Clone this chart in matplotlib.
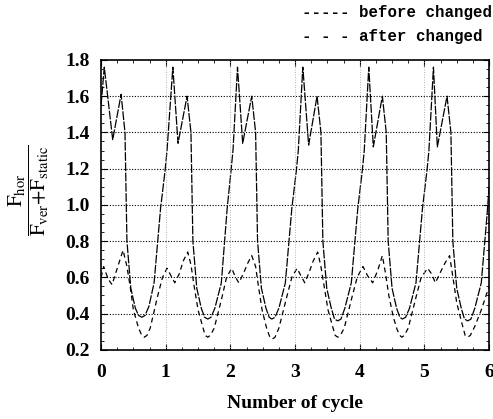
import numpy as np
import matplotlib
matplotlib.use("Agg")
import matplotlib.pyplot as plt
from matplotlib.ticker import MultipleLocator

# before changed (x = number of cycle, y = Fhor/(Fver+Fstatic))
x_before = [0.00, 0.05, 0.18, 0.31, 0.37, 0.40, 0.46, 0.53, 0.58, 0.63, 0.68, 0.74, 0.82, 0.92, 0.99, 1.02,
            1.11, 1.19, 1.33, 1.39, 1.42, 1.48, 1.55, 1.60, 1.65, 1.70, 1.76, 1.86, 1.95, 2.01, 2.04,
            2.11, 2.19, 2.33, 2.39, 2.42, 2.48, 2.55, 2.60, 2.64, 2.69, 2.75, 2.85, 2.95, 3.02, 3.05,
            3.12, 3.21, 3.34, 3.40, 3.43, 3.49, 3.56, 3.61, 3.66, 3.71, 3.77, 3.87, 3.97, 4.04, 4.07,
            4.14, 4.21, 4.35, 4.41, 4.44, 4.50, 4.57, 4.62, 4.66, 4.71, 4.77, 4.87, 4.97, 5.04, 5.07,
            5.14, 5.20, 5.35, 5.41, 5.44, 5.50, 5.57, 5.62, 5.67, 5.72, 5.78, 5.88, 5.97, 6.00]
y_before = [1.55, 1.76, 1.36, 1.61, 1.40, 0.80, 0.54, 0.43, 0.39, 0.38, 0.39, 0.44, 0.57, 0.98, 1.19, 1.30,
            1.76, 1.34, 1.60, 1.40, 0.80, 0.54, 0.43, 0.38, 0.37, 0.38, 0.43, 0.57, 0.98, 1.19, 1.30,
            1.76, 1.34, 1.60, 1.40, 0.80, 0.54, 0.43, 0.38, 0.37, 0.38, 0.43, 0.57, 0.98, 1.19, 1.30,
            1.76, 1.33, 1.60, 1.40, 0.80, 0.54, 0.43, 0.37, 0.36, 0.37, 0.43, 0.57, 0.98, 1.19, 1.30,
            1.76, 1.32, 1.60, 1.40, 0.80, 0.54, 0.43, 0.38, 0.37, 0.38, 0.43, 0.57, 0.98, 1.19, 1.30,
            1.76, 1.32, 1.60, 1.40, 0.80, 0.54, 0.43, 0.37, 0.36, 0.37, 0.43, 0.57, 0.95, 1.10]

# after changed
x_after = [0.00, 0.04, 0.11, 0.17, 0.25, 0.34, 0.40, 0.45, 0.50, 0.58, 0.63, 0.67, 0.71, 0.76, 0.87, 0.95,
           1.02, 1.08, 1.14, 1.21, 1.27, 1.34, 1.39, 1.44, 1.50, 1.57, 1.61, 1.65, 1.69, 1.75, 1.87, 1.94,
           2.02, 2.08, 2.13, 2.20, 2.27, 2.33, 2.39, 2.43, 2.49, 2.56, 2.61, 2.65, 2.69, 2.75, 2.87, 2.95,
           3.03, 3.09, 3.15, 3.22, 3.28, 3.35, 3.40, 3.45, 3.51, 3.58, 3.62, 3.66, 3.70, 3.76, 3.88, 3.96,
           4.05, 4.12, 4.20, 4.28, 4.35, 4.40, 4.45, 4.52, 4.58, 4.62, 4.65, 4.69, 4.75, 4.87, 4.95,
           5.05, 5.11, 5.17, 5.25, 5.32, 5.39, 5.45, 5.50, 5.57, 5.63, 5.67, 5.71, 5.78, 5.88, 6.00]
y_after = [0.60, 0.66, 0.59, 0.56, 0.65, 0.75, 0.66, 0.55, 0.42, 0.32, 0.28, 0.27, 0.28, 0.32, 0.49, 0.60,
           0.65, 0.61, 0.57, 0.62, 0.69, 0.74, 0.67, 0.55, 0.42, 0.33, 0.28, 0.27, 0.28, 0.32, 0.49, 0.60,
           0.65, 0.60, 0.57, 0.62, 0.68, 0.72, 0.66, 0.56, 0.42, 0.32, 0.27, 0.26, 0.27, 0.32, 0.49, 0.60,
           0.65, 0.61, 0.57, 0.63, 0.69, 0.74, 0.66, 0.55, 0.42, 0.33, 0.28, 0.27, 0.28, 0.32, 0.49, 0.60,
           0.66, 0.61, 0.57, 0.64, 0.72, 0.62, 0.50, 0.38, 0.31, 0.28, 0.27, 0.28, 0.32, 0.49, 0.60,
           0.65, 0.62, 0.57, 0.63, 0.68, 0.72, 0.58, 0.46, 0.36, 0.28, 0.27, 0.28, 0.33, 0.42, 0.55]

x_ticks = [0, 1, 2, 3, 4, 5, 6]
y_ticks = [0.2, 0.4, 0.6, 0.8, 1.0, 1.2, 1.4, 1.6, 1.8]

plt.rcParams['font.family'] = 'Liberation Serif'
plt.rcParams['mathtext.fontset'] = 'stix'

fig = plt.figure(figsize=(4.93, 4.19), dpi=100)
ax = fig.add_axes([0.205, 0.165, 0.787, 0.692])

ax.plot(x_before, y_before, color='black', lw=0.9, ls=(0, (7, 1.2)))
ax.plot(x_after, y_after, color='black', lw=0.9, ls=(0, (4, 3)))

ax.set_xlim(0, 6)
ax.set_ylim(0.2, 1.8)
ax.set_xticks(x_ticks)
ax.set_yticks(y_ticks)
ax.set_yticklabels(['%.1f' % v for v in y_ticks])
ax.xaxis.set_minor_locator(MultipleLocator(0.25))
ax.yaxis.set_minor_locator(MultipleLocator(0.05))
ax.tick_params(which='both', direction='in', top=True, right=True)
ax.tick_params(which='major', length=4)
ax.tick_params(which='minor', length=2.5)
ax.tick_params(axis='x', pad=10, labelsize=14)
ax.tick_params(axis='y', pad=8, labelsize=14)
for lab in ax.get_xticklabels() + ax.get_yticklabels():
    lab.set_fontweight('bold')

# grid
for v in y_ticks[1:-1]:
    ax.axhline(v, color='black', lw=0.8, ls=(0, (1, 1.5)))
for v in x_ticks[1:-1]:
    ax.axvline(v, color='#999999', lw=0.6, ls=(0, (1, 2)))

for s in ax.spines.values():
    s.set_linewidth(1.2)

ax.set_xlabel('Number of cycle', fontsize=14, fontweight='bold', labelpad=10)
ax.set_ylabel(r'$\dfrac{\mathrm{F_{hor}}}{\mathrm{F_{ver}{+}F_{static}}}$', fontsize=15)
ax.yaxis.set_label_coords(-0.13, 0.55)

# legend as typed text
fig.text(302 / 493, 1 - 12 / 419, '----- before changed', family='Liberation Mono',
         fontsize=11.3, fontweight='bold', va='center', ha='left')
fig.text(302 / 493, 1 - 37 / 419, '- - - after changed', family='Liberation Mono',
         fontsize=11.3, fontweight='bold', va='center', ha='left')

fig.savefig('out.png', dpi=100)
